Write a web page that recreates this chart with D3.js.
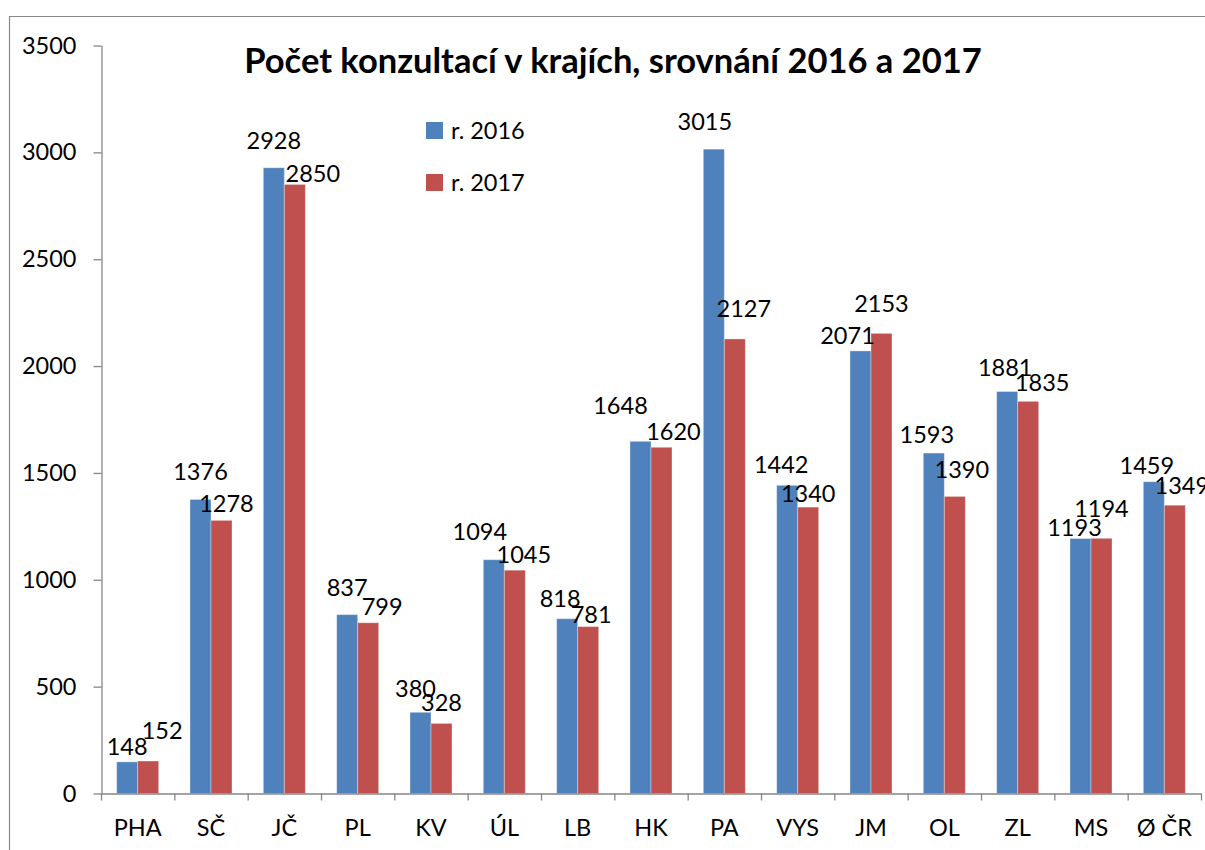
<!DOCTYPE html>
<html>

<head>
    <meta charset='utf-8' />
    <title>Počet konzultací v krajích</title>
    <script charset="utf-8" src="https://d3js.org/d3.v7.min.js"></script>
    <style>
        body {
            margin: 0;
            background: #fff;
            font-family: Lato, 'Open Sans', Arial, sans-serif;
        }

        svg text {
            font-family: Lato, 'Open Sans', Arial, sans-serif;
            fill: #000;
        }
    </style>
</head>

<body>
    <div id="chartContainer"></div>
</body>

<script>
    // data
    var regions = ["PHA", "SČ", "JČ", "PL", "KV", "ÚL", "LB", "HK", "PA", "VYS", "JM", "OL", "ZL", "MS", "Ø ČR"]
    var values2016 = [148, 1376, 2928, 837, 380, 1094, 818, 1648, 3015, 1442, 2071, 1593, 1881, 1193, 1459]
    var values2017 = [152, 1278, 2850, 799, 328, 1045, 781, 1620, 2127, 1340, 2153, 1390, 1835, 1194, 1349]
    var seriesNames = ["r. 2016", "r. 2017"]
    var yTicks = [0, 500, 1000, 1500, 2000, 2500, 3000, 3500]
    var titleText = "Počet konzultací v krajích, srovnání 2016 a 2017"

    // the data labels were dragged by hand in the original, so each one gets a nudge [dx, dy]
    var nudge2016 = [[0, -7], [0, -19], [0, -19], [0, -19], [-5, -15], [-14, -20], [-7, -12], [-20, -27],
        [-9, -19], [-6, -12], [-13, -7], [-7, -10], [-2, -16], [-6, -3], [-7, -8]]
    var nudge2017 = [[14, -22], [5, -8], [18, -2], [14, -8], [0, -12], [9, -7], [3, -4], [12, -7],
        [9, -22], [0, -5], [0, -21], [7, -18], [14, -10], [0, -21], [7, -11]]

    var colors = ["#4F81BD", "#C0504D"]

    var width = 1205
    var height = 850

    var svg = d3.select("#chartContainer").append("svg")
        .attr("width", width)
        .attr("height", height)

    // outer frame (only top and left visible)
    svg.append("path")
        .attr("d", "M9.5,850 V16.5 H1205")
        .attr("fill", "none")
        .attr("stroke", "#888")
        .attr("stroke-width", 1.2)

    var x = d3.scaleBand()
        .domain(regions)
        .range([101, 1201])
        .padding(0)

    var xSub = d3.scaleBand()
        .domain(seriesNames)
        .range([x.bandwidth() / 2 - 21, x.bandwidth() / 2 + 21])

    var y = d3.scaleLinear()
        .domain([0, 3500])
        .range([793.5, 45.5])

    var rows = regions.map(function (r, i) {
        return { region: r, vals: [values2016[i], values2017[i]], nudge: [nudge2016[i], nudge2017[i]] }
    })

    // y axis
    var yAxis = svg.append("g")
        .attr("transform", "translate(101.5,0)")
        .call(d3.axisLeft(y).tickValues(yTicks).tickFormat(d3.format("d"))
            .tickSize(8).tickPadding(17).tickSizeOuter(0))
    yAxis.select(".domain").attr("stroke", "#868686").attr("stroke-width", 1.3)
    yAxis.selectAll(".tick line").attr("stroke", "#868686").attr("stroke-width", 1.3)
    yAxis.selectAll(".tick text")
        .style("font-size", "23.5px")
        .style("font-family", "Lato")
        .attr("fill", "#000")

    // bars
    var groups = svg.selectAll("g.region")
        .data(rows)
        .enter()
        .append("g")
        .attr("class", "region")
        .attr("transform", function (d) { return "translate(" + x(d.region) + ",0)" })

    groups.selectAll("rect")
        .data(function (d) { return d.vals.map(function (v, k) { return { k: k, v: v } }) })
        .enter()
        .append("rect")
        .attr("x", function (d) { return xSub(seriesNames[d.k]) })
        .attr("width", xSub.bandwidth())
        .attr("y", function (d) { return y(d.v) })
        .attr("height", function (d) { return y(0) - y(d.v) })
        .attr("fill", function (d) { return colors[d.k] })
        .attr("stroke", "rgba(255,255,255,0.35)")
        .attr("stroke-width", 1)

    // data labels
    groups.selectAll("text.lbl")
        .data(function (d) { return d.vals.map(function (v, k) { return { k: k, v: v, n: d.nudge[k] } }) })
        .enter()
        .append("text")
        .attr("class", "lbl")
        .attr("x", function (d) { return xSub(seriesNames[d.k]) + xSub.bandwidth() / 2 + d.n[0] })
        .attr("y", function (d) { return y(d.v) + d.n[1] })
        .attr("text-anchor", "middle")
        .style("font-size", "23.5px")
        .text(function (d) { return d.v })

    // x axis: line, tick marks on the category borders, labels in the middle
    var xAxis = svg.append("g")
        .attr("transform", "translate(0,793.5)")
        .call(d3.axisBottom(x).tickSize(0).tickPadding(26).tickSizeOuter(0))
    xAxis.select(".domain").attr("stroke", "#868686").attr("stroke-width", 1.3)
    xAxis.selectAll(".tick text")
        .style("font-size", "23.5px")
        .style("font-family", "Lato")
        .attr("fill", "#000")

    var borders = regions.map(function (r) { return x(r) }).concat([x.range()[1]])
    xAxis.selectAll("line.border")
        .data(borders)
        .enter()
        .append("line")
        .attr("class", "border")
        .attr("x1", function (d) { return d + 0.5 })
        .attr("x2", function (d) { return d + 0.5 })
        .attr("y1", 0)
        .attr("y2", 7)
        .attr("stroke", "#868686")
        .attr("stroke-width", 1.3)

    // title
    svg.append("text")
        .attr("x", 613)
        .attr("y", 73)
        .attr("text-anchor", "middle")
        .style("font-size", "34.5px")
        .style("font-weight", "bold")
        .text(titleText)

    // legend
    var legend = svg.selectAll("g.legend")
        .data(seriesNames)
        .enter()
        .append("g")
        .attr("class", "legend")
        .attr("transform", function (d, i) { return "translate(426," + (122 + i * 52) + ")" })

    legend.append("rect")
        .attr("width", 17)
        .attr("height", 17)
        .attr("fill", function (d, i) { return colors[i] })

    legend.append("text")
        .attr("x", 25)
        .attr("y", 16.5)
        .style("font-size", "23.5px")
        .text(function (d) { return d })
</script>

</html>
